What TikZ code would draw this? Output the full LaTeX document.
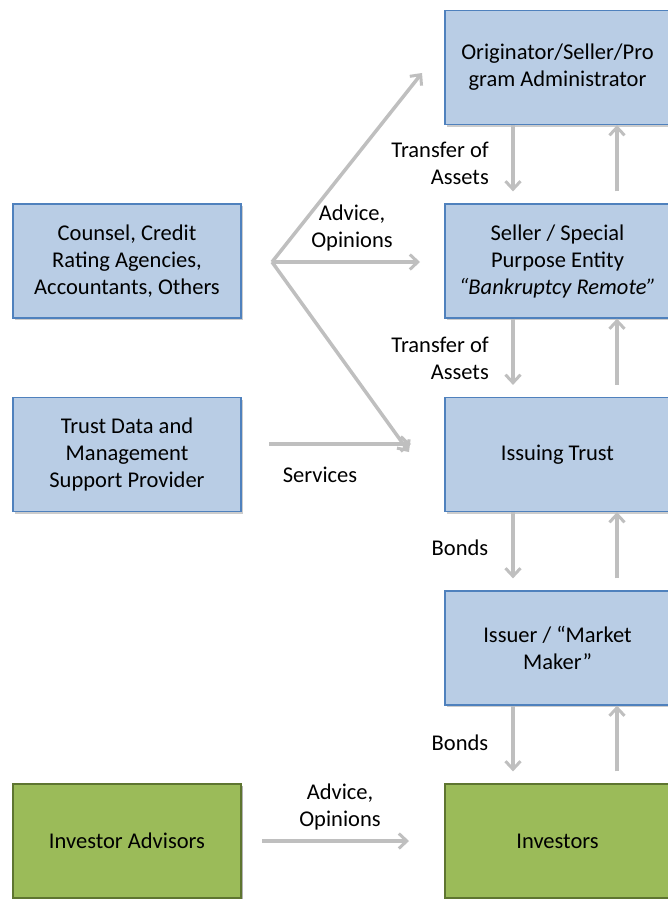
\documentclass[tikz,border=0pt]{standalone}
\usepackage{fontspec}
\setmainfont{Carlito}
\usetikzlibrary{arrows.meta,shadows}
\definecolor{bfill}{HTML}{B9CDE5}
\definecolor{bdraw}{HTML}{4F81BD}
\definecolor{gfill}{HTML}{9BBB59}
\definecolor{gdraw}{HTML}{5E7530}
\definecolor{arrgray}{HTML}{BFBFBF}
\tikzset{
  box/.style={draw=bdraw, line width=1.2pt, fill=bfill, minimum width=228pt, minimum height=114pt,
    align=center, inner sep=0pt, font=\fontsize{22.5}{27}\selectfont,
    drop shadow={shadow xshift=1.5pt, shadow yshift=-2pt, fill=black!40, opacity=0.5}},
  rbox/.style={box, minimum width=225pt},
  gbox/.style={box, draw=gdraw, fill=gfill},
  arr/.style={draw=arrgray, line width=3.5pt, -{Straight Barb[length=8pt,width=15pt,line width=3pt]}},
  lbl/.style={font=\fontsize{22.5}{27}\selectfont, inner sep=0pt},
}
\begin{document}
\begin{tikzpicture}[x=1pt,y=-1pt]
\useasboundingbox (0,0) rectangle (668,899);
% right column
\node[rbox] (orig) at (557.5,67.5) {Originator/Seller/Pro\\gram Administrator};
\node[rbox] (spe) at (557.5,261) {Seller / Special\\Purpose Entity\\\textit{“Bankruptcy Remote”}};
\node[rbox] (trust) at (557.5,454.5) {Issuing Trust};
\node[rbox] (issuer) at (557.5,648) {Issuer / “Market\\Maker”};
\node[rbox, gbox, minimum width=225pt] (inv) at (557.5,841) {Investors};
% left column
\node[box] (counsel) at (127,261) {Counsel, Credit\\Rating Agencies,\\Accountants, Others};
\node[box] (tdata) at (127,454.5) {Trust Data and\\Management\\Support Provider};
\node[box, gbox] (advisors) at (127,841) {Investor Advisors};
% helper coordinates
\coordinate (dl) at (513,0);
\coordinate (ul) at (617,0);
\coordinate (fan) at (272,262);
\coordinate (fa) at (422,73);
\coordinate (fb) at (420,262);
\coordinate (fc) at (409,452);
\coordinate (sv) at (269,444);
\coordinate (sve) at (411,444);
\coordinate (ia) at (262,841);
\coordinate (ib) at (409,841);
% vertical arrows
\foreach \a/\b in {orig/spe, spe/trust, trust/issuer, issuer/inv}{
  \draw[arr] (\a.south -| dl) -- ([yshift=12pt]\b.north -| dl);
  \draw[arr] ([yshift=12pt]\b.north -| ul) -- (\a.south -| ul);
}
% fan arrows
\draw[arr] (fan) -- (fa);
\draw[arr] (fan) -- (fb);
\draw[arr] (fan) -- (fc);
\draw[arr] (sv) -- (sve);
\draw[arr] (ia) -- (ib);
% labels
\node[lbl, align=right, anchor=east] (t1) at (489,163.5) {Transfer of\\Assets};
\node[lbl, align=right, anchor=east] (t2) at (489,358.5) {Transfer of\\Assets};
\node[lbl] (b1) at (460,548) {Bonds};
\node[lbl] (b2) at (460,743) {Bonds};
\node[lbl, align=center] (a1) at (352,228) {Advice,\\Opinions};
\node[lbl] (s1) at (320,475) {Services};
\node[lbl, align=center] (a2) at (340,807) {Advice,\\Opinions};
\end{tikzpicture}
\end{document}
